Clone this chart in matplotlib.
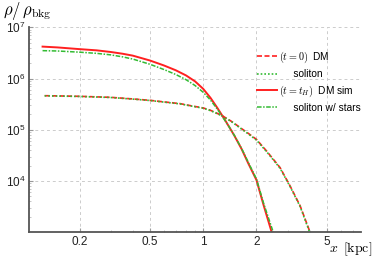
import matplotlib
matplotlib.use("Agg")
import matplotlib.pyplot as plt
import numpy as np

plt.rcParams['font.family'] = ['Liberation Sans', 'DejaVu Sans']
plt.rcParams['mathtext.fontset'] = 'cm'

# t = t_H DM sim (red solid)
x_sim = [0.1236, 0.15, 0.2, 0.25, 0.3, 0.35, 0.4, 0.5, 0.6, 0.7, 0.8, 0.9, 1.0, 1.1, 1.2, 1.3,
         1.4, 1.5, 1.65, 1.8, 2.0, 2.2, 2.44, 2.5]
y_sim = [4.2e6, 4.05e6, 3.75e6, 3.55e6, 3.3e6, 3.05e6, 2.8e6, 2.25e6, 1.8e6, 1.45e6, 1.15e6, 8.8e5,
         6.3e5, 4.2e5, 2.7e5, 1.75e5, 1.15e5, 7.7e4, 4.2e4, 2.2e4, 1.05e4, 3.3e3, 1.0e3, 7.5e2]
# soliton w/ stars (green dash-dot)
x_sws = [0.1236, 0.15, 0.2, 0.25, 0.3, 0.35, 0.4, 0.5, 0.6, 0.7, 0.8, 0.9, 1.0, 1.1, 1.2, 1.3,
         1.4, 1.5, 1.65, 1.8, 2.0, 2.2, 2.49, 2.55]
y_sws = [3.5e6, 3.45e6, 3.27e6, 3.1e6, 2.9e6, 2.65e6, 2.4e6, 1.9e6, 1.5e6, 1.2e6, 9.5e5, 7.3e5,
         5.4e5, 3.8e5, 2.55e5, 1.7e5, 1.15e5, 7.8e4, 4.3e4, 2.3e4, 1.1e4, 3.6e3, 1.0e3, 7.5e2]
# t = 0 DM (red dashed)
x_dm0 = [0.127, 0.2, 0.3, 0.4, 0.5, 0.6, 0.741, 0.85, 1.0, 1.1, 1.275, 1.45, 1.62, 1.8, 2.0,
         2.29, 2.72, 3.1, 3.53, 4.02, 4.1]
y_dm0 = [4.63e5, 4.5e5, 4.3e5, 4.0e5, 3.76e5, 3.5e5, 3.24e5, 2.95e5, 2.67e5, 2.4e5, 1.9e5, 1.45e5,
         1.1e5, 8.5e4, 6.5e4, 3.8e4, 1.83e4, 8.0e3, 3.3e3, 1.0e3, 8.5e2]
# soliton (green dotted)
x_sol = [0.127, 0.2, 0.3, 0.4, 0.5, 0.6, 0.741, 0.85, 1.0, 1.1, 1.275, 1.45, 1.62, 1.8, 2.0,
         2.29, 2.72, 3.1, 3.53, 4.0, 4.08]
y_sol = [4.6e5, 4.47e5, 4.27e5, 3.97e5, 3.73e5, 3.47e5, 3.2e5, 2.92e5, 2.64e5, 2.37e5, 1.88e5, 1.43e5,
         1.08e5, 8.3e4, 6.3e4, 3.7e4, 1.78e4, 7.8e3, 3.2e3, 1.0e3, 8.5e2]

xticks = [0.2, 0.5, 1, 2, 5]
xticklabels = ['0.2', '0.5', '1', '2', '5']

fig = plt.figure(figsize=(3.74, 2.59), dpi=100)
ax = fig.add_axes([29.3/374, 1 - 232.3/259, (361 - 29.3)/374, (232.3 - 27.3)/259])

red = '#ff2020'
green = '#33bb33'
ax.plot(x_dm0, y_dm0, color=red, ls=(0, (3, 1.5)), lw=1.2, label=r'$(t=0)$  DM')
ax.plot(x_sol, y_sol, color=green, ls=(0, (1, 1.2)), lw=1.2, label='     soliton')
ax.plot(x_sim, y_sim, color=red, ls='-', lw=1.4, label=r'$(t=t_H)$  DM sim')
ax.plot(x_sws, y_sws, color=green, ls=(0, (3, 1, 1, 1)), lw=1.1, label='     soliton w/ stars')

ax.set_xscale('log')
ax.set_yscale('log')
ax.set_xlim(0.104, 7.8)
ax.set_ylim(1e3, 1e7)
ax.set_xticks(xticks)
ax.set_xticklabels(xticklabels)
ax.set_yticks([1e4, 1e5, 1e6, 1e7])

for s in ['top', 'right']:
    ax.spines[s].set_visible(False)
for s in ['left', 'bottom']:
    ax.spines[s].set_color('#555555')
    ax.spines[s].set_linewidth(1.3)
ax.tick_params(which='major', direction='in', length=3, color='#999999', labelsize=8.5, labelcolor='#222222', pad=3)
ax.tick_params(which='minor', direction='in', length=1.5, color='#bbbbbb')
ax.yaxis.set_minor_formatter(matplotlib.ticker.NullFormatter())
ax.xaxis.set_minor_formatter(matplotlib.ticker.NullFormatter())
ax.grid(True, which='major', color='#cccccc', ls=(0, (3, 3)), lw=0.7)

leg = ax.legend(loc='upper left', bbox_to_anchor=(0.685, 0.89), frameon=False,
                fontsize=7.3, handlelength=2.0, handletextpad=0.2, labelspacing=0.4,
                borderaxespad=0, borderpad=0)

fig.text(3/374, 1 - 15/259, r'$\rho/\,\rho_{\mathrm{bkg}}$', fontsize=12, ha='left', va='baseline')
fig.text(372/374, 1 - 252/259, r'$x\ \,[\mathrm{kpc}]$', fontsize=10, ha='right', va='baseline')

fig.savefig('out.png', dpi=100)
